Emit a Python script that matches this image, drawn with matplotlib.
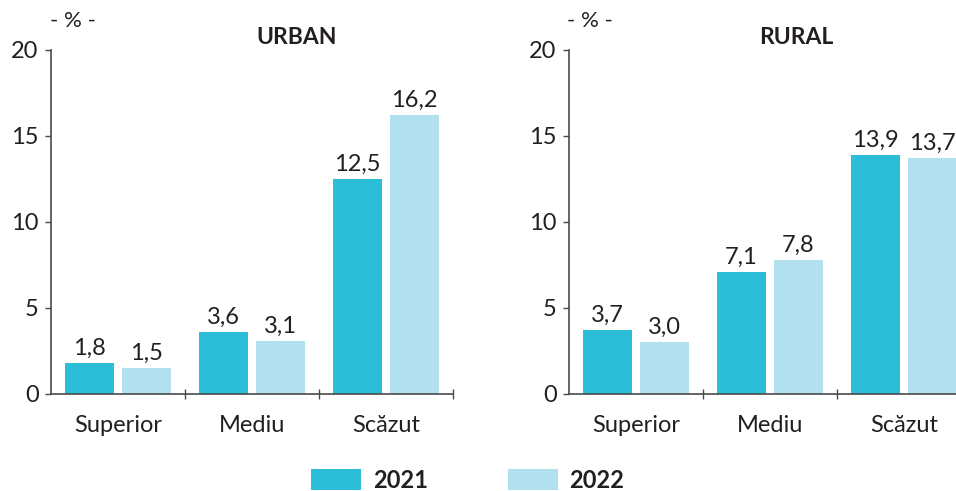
import numpy as np
import matplotlib
matplotlib.use("Agg")
import matplotlib.pyplot as plt

plt.rcParams["font.family"] = ["Lato", "DejaVu Sans"]

categories = ["Superior", "Mediu", "Scăzut"]
years = ["2021", "2022"]
urban_2021 = [1.8, 3.6, 12.5]
urban_2022 = [1.5, 3.1, 16.2]
rural_2021 = [3.7, 7.1, 13.9]
rural_2022 = [3.0, 7.8, 13.7]
yticks = [0, 5, 10, 15, 20]

c21 = "#2cbdd8"
c22 = "#b2e0ee"
txt = "#231f20"
axc = "#4a4a4a"
fs = 17

fig = plt.figure(figsize=(9.56, 4.91), dpi=100)
ax_u = fig.add_axes([51 / 956, 1 - 394 / 491, 402 / 956, 344 / 491])
ax_r = fig.add_axes([569 / 956, 1 - 394 / 491, 402 / 956, 344 / 491])

x = np.arange(len(categories))
w = 0.366
off = 0.213


def fmt(v):
    return f"{v:.1f}".replace(".", ",")


for ax, a, b in [(ax_u, urban_2021, urban_2022), (ax_r, rural_2021, rural_2022)]:
    b1 = ax.bar(x - off, a, w, color=c21, label=years[0])
    b2 = ax.bar(x + off, b, w, color=c22, label=years[1])
    ax.bar_label(b1, labels=[fmt(v) for v in a], padding=3, fontsize=fs, color=txt)
    ax.bar_label(b2, labels=[fmt(v) for v in b], padding=3, fontsize=fs, color=txt)
    ax.set_xlim(-0.5, 2.5)
    ax.set_ylim(0, 20)
    ax.set_yticks(yticks)
    ax.set_yticklabels([str(t) for t in yticks])
    ax.set_xticks(x)
    ax.set_xticklabels(categories)
    ax.set_xticks([0.5, 1.5, 2.5], minor=True)
    ax.tick_params(axis="x", which="major", length=0, pad=15, labelsize=fs, labelcolor=txt)
    ax.tick_params(axis="x", which="minor", length=7, direction="inout", color=axc, width=1)
    ax.tick_params(axis="y", length=4, direction="out", color=axc, width=1,
                   pad=5, labelsize=fs, labelcolor=txt)
    for s in ["top", "right"]:
        ax.spines[s].set_visible(False)
    for s in ["left", "bottom"]:
        ax.spines[s].set_color(axc)
        ax.spines[s].set_linewidth(1.2)

fig.text(73 / 956, 1 - 21 / 491, "- % -", ha="center", va="center", fontsize=16, color=txt)
fig.text(590 / 956, 1 - 21 / 491, "- % -", ha="center", va="center", fontsize=16, color=txt)
fig.text(297 / 956, 1 - 38 / 491, "URBAN", ha="center", va="center", fontsize=16.5,
         fontweight="bold", color=txt)
fig.text(796 / 956, 1 - 38 / 491, "RURAL", ha="center", va="center", fontsize=16.5,
         fontweight="bold", color=txt)

handles, labels = ax_u.get_legend_handles_labels()
leg = fig.legend(handles, labels, loc="center", bbox_to_anchor=(468 / 956, 1 - 480 / 491),
                 ncol=2, frameon=False, handlelength=2.1, handleheight=1.0,
                 handletextpad=0.5, columnspacing=3.4,
                 prop={"size": fs, "weight": "bold"})
for t in leg.get_texts():
    t.set_color(txt)

fig.savefig("out.png", dpi=100)
